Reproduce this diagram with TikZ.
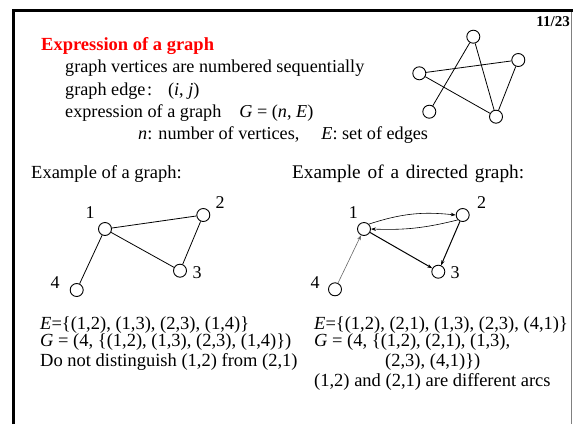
\documentclass[tikz,border=0pt]{standalone}
\usepackage{fontspec}
\setmainfont{Liberation Serif}
\usetikzlibrary{arrows.meta}
\begin{document}
\begin{tikzpicture}[x=1pt,y=-1pt,
  txt/.style={anchor=base west,inner sep=0pt,font=\fontsize{18.5}{21}\selectfont},
  toptxt/.style={anchor=base west,inner sep=0pt,font=\fontsize{18.2}{21}\selectfont},
  vtx/.style={circle,draw,line width=0.9pt,minimum size=13pt,inner sep=0pt},
  lbl/.style={inner sep=0pt,font=\fontsize{18}{20}\selectfont},
  edge/.style={line width=0.8pt},
  arc/.style={line width=0.8pt,-{Stealth[length=5pt,width=3.5pt]}},
  garc/.style={line width=0.6pt,draw=black!60,-{Stealth[length=5pt,width=3.5pt,fill=black]}}]
\useasboundingbox (0,0) rectangle (573,424);
% frame
\draw[line width=3pt] (13,424) -- (13,10.5) -- (573,10.5);
\draw[line width=1pt,black!50] (571.5,12) -- (571.5,424);
\node[anchor=base east,inner sep=0pt,font=\fontsize{15}{18}\selectfont\bfseries] (pg) at (570,26.5) {11/23};
% top text
\node[toptxt,text=red,font=\fontsize{18.5}{21}\selectfont\bfseries] (t0) at (41,50) {Expression of a graph};
\node[toptxt] (t1) at (65,72.5) {graph vertices are numbered sequentially};
\node[toptxt] (t2) at (65,95) {graph edge\hspace{1.5pt}:\hspace{16pt}(\textit{i}, \textit{j})};
\node[toptxt] (t3) at (65,117.5) {expression of a graph\hspace{18pt}\textit{G} = (\textit{n}, \textit{E})};
\node[toptxt] (t4) at (138,139.5) {\textit{n}: number of vertices,\hspace{22pt}\textit{E}: set of edges};
% top-right graph
\node[vtx] (a) at (473.3,36.7) {};
\node[vtx] (b) at (518.3,60) {};
\node[vtx] (c) at (419.3,73.3) {};
\node[vtx] (d) at (429.3,111.7) {};
\node[vtx] (e) at (496,116.7) {};
\draw[edge] (a) -- (d);
\draw[edge] (a) -- (e);
\draw[edge] (c) -- (b);
\draw[edge] (c) -- (e);
\draw[edge] (b) -- (e);
% example headings
\node[txt] (h1) at (31,178) {Example of a graph:};
\node[txt,font=\fontsize{19.3}{21}\selectfont] (h2) at (292,178) {Example\hspace{2pt} of\hspace{2pt} a\hspace{2pt} directed\hspace{2pt} graph:};
% undirected graph
\node[vtx] (u1) at (105,229) {};
\node[vtx] (u2) at (203.3,215) {};
\node[vtx] (u3) at (180,270.7) {};
\node[vtx] (u4) at (76.7,290) {};
\node[lbl] (lu1) at (90,213) {1};
\node[lbl] (lu2) at (220,203) {2};
\node[lbl] (lu3) at (197,273) {3};
\node[lbl] (lu4) at (55,283) {4};
\draw[edge] (u1) -- (u2);
\draw[edge] (u1) -- (u3);
\draw[edge] (u2) -- (u3);
\draw[edge] (u1) -- (u4);
% directed graph
\node[vtx] (d1) at (364,229) {};
\node[vtx] (d2) at (462.7,215) {};
\node[vtx] (d3) at (438.3,271.7) {};
\node[vtx] (d4) at (335,289.3) {};
\node[lbl] (ld1) at (353.3,213) {1};
\node[lbl] (ld2) at (481.7,203) {2};
\node[lbl] (ld3) at (455,273) {3};
\node[lbl] (ld4) at (315,283) {4};
\draw[arc,line width=0.6pt] (d1.north east) to[bend left=12] (d2.west);
\draw[arc,line width=0.6pt] (d2.south west) to[bend left=8] (d1.east);
\draw[arc,line width=1pt] (d1) -- (d3);
\draw[arc,line width=1pt] (d2) -- (d3);
\draw[garc] (d4) -- (d1);
% bottom texts
\node[txt] (b1) at (40,329) {\textit{E}=\{(1,2), (1,3), (2,3), (1,4)\}};
\node[txt] (b2) at (40,346.5) {\textit{G} = (4, \{(1,2), (1,3), (2,3), (1,4)\})};
\node[txt] (b3) at (40,366) {Do not distinguish (1,2) from (2,1)};
\node[txt] (c1) at (314,329) {\textit{E}=\{(1,2), (2,1), (1,3), (2,3), (4,1)\}};
\node[txt] (c2) at (314,346.5) {\textit{G} = (4, \{(1,2), (2,1), (1,3),};
\node[txt] (c3) at (385,366) {(2,3), (4,1)\})};
\node[txt] (c4) at (314,386.5) {(1,2) and (2,1) are different arcs};
\end{tikzpicture}
\end{document}
